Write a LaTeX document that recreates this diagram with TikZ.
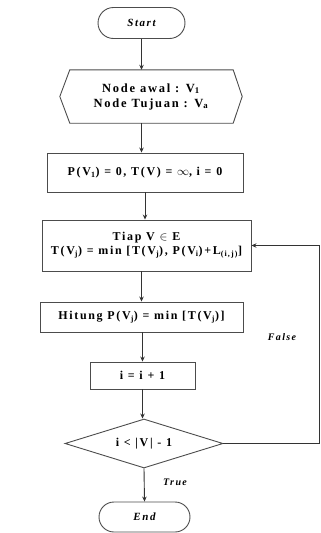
\documentclass[tikz,border=0pt]{standalone}
\usepackage{fontspec}
\setmainfont{Liberation Serif}[LetterSpace=14]
\usetikzlibrary{shapes.geometric,shapes.misc,arrows.meta,calc}
\begin{document}
\begin{tikzpicture}[x=1pt,y=-1pt,
  ln/.style={draw=black!70, line width=0.9pt},
  box/.style={ln, rectangle, inner sep=0pt, align=center, font=\bfseries\fontsize{12}{14}\selectfont},
  term/.style={ln, rounded rectangle, inner sep=0pt, font=\bfseries\itshape\fontsize{11}{13}\selectfont},
  lbl/.style={font=\bfseries\itshape\fontsize{10}{12}\selectfont, inner sep=0pt},
  arr/.style={draw=black!80, line width=0.9pt, -{Stealth[length=5pt,width=4.5pt]}}]
\useasboundingbox (0,0) rectangle (321,533);
\node[term, minimum width=87, minimum height=31] (start) at (141.5,23) {Start};
\node[inner sep=0pt, align=center, minimum width=182, minimum height=53, font=\bfseries\fontsize{12.5}{15}\selectfont] (hex) at (151,96.5) {Node awal : V\textsubscript{1}\\Node Tujuan : V\textsubscript{a}};
\draw[ln] (hex.west) -- ([xshift=10pt]hex.north west) -- ([xshift=-9pt]hex.north east) -- (hex.east) -- ([xshift=-9pt]hex.south east) -- ([xshift=10pt]hex.south west) -- cycle;
\node[box, minimum width=196, minimum height=39] (b1) at (145,172.5) {P(V\textsubscript{1}) = 0, T(V) = $\infty$, i = 0};
\node[box, minimum width=209, minimum height=51] (b2) at (146.5,245.5) {Tiap V $\in$ E\\T(V\textsubscript{j}) = min [T(V\textsubscript{j}), P(V\textsubscript{i})+L\textsubscript{(i,j)}]};
\node[box, minimum width=203, minimum height=30] (b3) at (141.5,317) {Hitung P(V\textsubscript{j}) = min [T(V\textsubscript{j})]};
\node[box, minimum width=105, minimum height=27] (b4) at (142.5,375.5) {i = i + 1};
\node[ln, diamond, aspect=3.2, inner sep=0pt, minimum width=158, minimum height=49, font=\bfseries\fontsize{12}{14}\selectfont] (dia) at (144,443.5) {i < |V| - 1};
\node[term, minimum width=91, minimum height=30] (end) at (144.5,517) {End};
\node[lbl] (false) at (282,337) {False};
\node[lbl] (true) at (175,482) {True};
\coordinate (fb) at (319,443.5);
\draw[arr] (start.south) -- (start.south |- hex.north);
\draw[arr] (start.south |- hex.south) -- (start.south |- b1.north);
\draw[arr] (b1.south) -- (b1.south |- b2.north);
\draw[arr] (b3.north |- b2.south) -- (b3.north);
\draw[arr] (b4.north |- b3.south) -- (b4.north);
\draw[arr] (b4.south) -- (b4.south |- dia.north);
\draw[arr] (dia.south) -- (end.north);
\draw[arr] (dia.east) -- (fb) |- (b2.east);
\end{tikzpicture}
\end{document}
